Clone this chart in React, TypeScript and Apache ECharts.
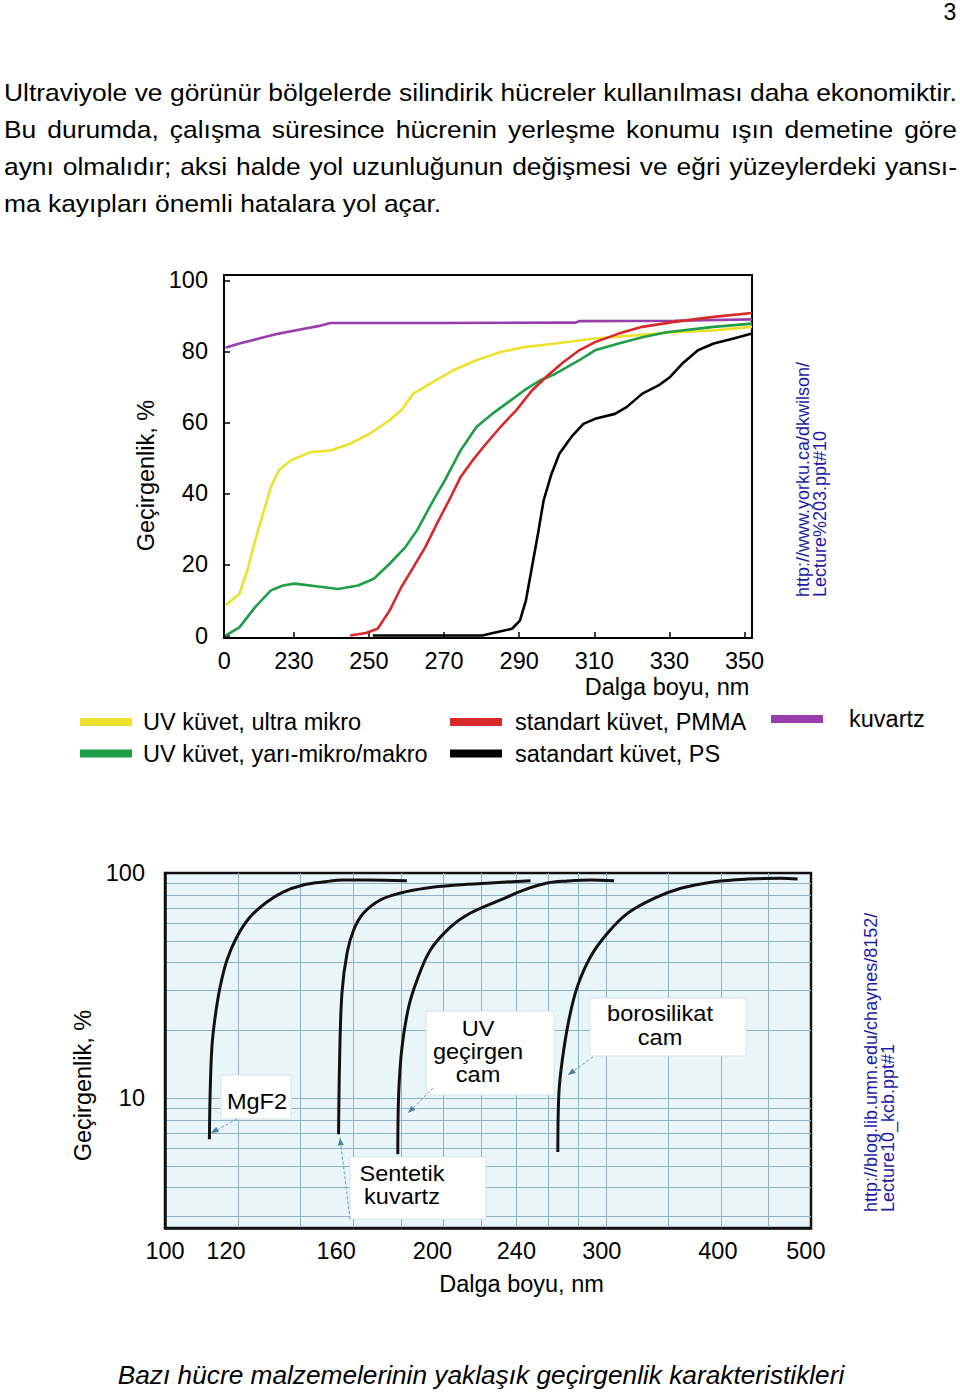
import React, { useEffect, useRef } from 'react';
import * as echarts from 'echarts';

const FONT = '"Liberation Sans", Arial, Helvetica, sans-serif';

// ---------- text ----------
const paragraphLines = [
  'Ultraviyole ve görünür bölgelerde silindirik hücreler kullanılması daha ekonomiktir.',
  'Bu durumda, çalışma süresince hücrenin yerleşme konumu ışın demetine göre',
  'aynı olmalıdır; aksi halde yol uzunluğunun değişmesi ve eğri yüzeylerdeki yansı-',
  'ma kayıpları önemli hatalara yol açar.',
];
const caption = 'Bazı hücre malzemelerinin yaklaşık geçirgenlik karakteristikleri';
const pageNumber = '3';
const topSource = ['http://www.yorku.ca/dkwilson/', 'Lecture%203.ppt#10'];
const bottomSource = ['http://blog.lib.umn.edu/chaynes/8152/', 'Lecture10_kcb.ppt#1'];
const axisNameY = 'Geçirgenlik, %';
const axisNameX = 'Dalga boyu, nm';

// ---------- top chart ----------
const topXLabelValues = [211.5, 230, 250, 270, 290, 310, 330, 350];
const topXTickValues = [230, 250, 270, 290, 310, 330, 350];
const topYTickValues = [0, 20, 40, 60, 80, 100];

const seriesNames = [
  'UV küvet, ultra mikro',
  'UV küvet, yarı-mikro/makro',
  'standart küvet, PMMA',
  'satandart küvet, PS',
  'kuvartz',
];
const seriesColors = ['#ece22e', '#1f9e47', '#d62a2a', '#000000', '#9a3dac'];

const ultraMikro = [
  [211.8, 8.5], [215.5, 11.7], [217.6, 18.3], [219.7, 26.8], [221.8, 34.3], [223.9, 41.8],
  [226.0, 46.5], [229.2, 49.3], [234.4, 51.6], [239.7, 52.1], [245.0, 54.0], [250.2, 56.8],
  [255.5, 60.6], [258.6, 63.4], [261.8, 68.1], [267.1, 71.4], [272.3, 74.6], [278.6, 77.5],
  [285.0, 79.8], [291.3, 81.2], [299.7, 82.2], [310.2, 83.6], [320.7, 84.5], [331.3, 85.4],
  [341.8, 85.9], [352, 86.9],
];
const yariMikro = [
  [211.8, 0], [215.5, 2.3], [219.7, 8.0], [223.9, 12.7], [227.1, 14.1], [230.2, 14.6],
  [236.5, 13.8], [241.8, 13.1], [247.1, 14.1], [251.3, 16.0], [255.5, 20.2], [259.7, 24.9],
  [262.8, 29.6], [267.1, 38.0], [270.2, 43.7], [274.4, 52.1], [278.6, 58.7], [282.8, 62.4],
  [287.1, 65.7], [291.3, 69.0], [295.5, 71.8], [299.7, 73.7], [306.0, 77.5], [310.2, 80.3],
  [316.5, 82.2], [322.8, 84.0], [329.2, 85.4], [341.8, 86.9], [352, 87.8],
];
const pmma = [
  [245.0, 0], [249.2, 0.7], [252.3, 1.9], [255.5, 7.0], [258.6, 13.6], [261.8, 19.2],
  [265.0, 24.9], [268.1, 31.5], [271.3, 38.0], [274.4, 44.6], [277.6, 49.3], [280.8, 53.5],
  [285.0, 58.7], [289.2, 63.4], [293.4, 69.0], [297.6, 73.2], [301.8, 77.0], [306.0, 80.3],
  [310.2, 82.6], [316.5, 85.0], [322.8, 86.9], [331.3, 88.3], [341.8, 89.7], [352, 90.8],
];
const ps = [
  [251.0, 0], [280.2, 0], [283.9, 0.9], [288.1, 1.9], [290.2, 4.2], [291.8, 9.9],
  [293.4, 19.2], [295.0, 28.6], [296.5, 38.0], [298.6, 45.5], [300.7, 51.2], [303.9, 55.9],
  [307.1, 59.6], [310.2, 61.0], [315.5, 62.4], [318.6, 64.3], [322.8, 68.1], [327.1, 70.4],
  [330.2, 72.8], [333.4, 76.5], [337.6, 80.3], [341.8, 82.2], [347.1, 83.6], [352, 85.0],
];
const kuvartz = [
  [211.8, 81.0], [215.5, 82.2], [220.7, 83.6], [226.0, 85.0], [231.3, 86.1], [236.5, 87.1],
  [239.7, 88.0], [270, 88.0], [305, 88.1], [306, 88.5], [331.3, 88.6], [352, 89.0],
];

// ---------- bottom chart ----------
// label texts and the wavelengths under which the original figure prints them
const botXLabelTexts = ['100', '120', '160', '200', '240', '300', '400', '500'];
const botXLabelAt = [100, 116.4, 153.2, 194.7, 240, 296.9, 396.5, 493.7];
const botXGridValues = [120, 140, 160, 180, 200, 220, 240, 260, 280, 300, 350, 400, 450];
const botYLabelValues = [10, 100];
const botYGridValues = [3, 4, 5, 6, 7, 8, 9, 10, 20, 30, 40, 50, 60, 70, 80, 90];

const mgf2 = [
  [111.7, 6.57], [111.9, 10.5], [112.4, 16.9], [113.3, 22.9], [114.7, 31.1], [116.7, 41.1],
  [119.6, 52.0], [123.6, 63.7], [128.9, 74.3], [134.2, 82.3], [141.1, 88.4], [148.3, 91.2],
  [155.9, 93.1], [165.5, 93.1], [182.7, 92.4],
];
const sentetikKuvartz = [
  [154.1, 6.92], [154.5, 14.8], [155.4, 29.3], [157.4, 44.1], [160.0, 55.8], [164.0, 66.4],
  [171.0, 75.9], [179.8, 81.5], [192.1, 85.8], [207.0, 88.4], [225.0, 90.3], [248.6, 92.4],
];
const uvGecirgenCam = [
  [178.6, 5.64], [179.0, 10.5], [180.5, 16.9], [183.5, 25.4], [187.4, 33.5], [193.7, 45.5],
  [203.6, 57.5], [214.1, 66.4], [230.7, 75.9], [244.3, 84.0], [259.3, 90.3], [272.5, 92.1],
  [288.7, 93.1], [306.1, 92.4],
];
const borosilikatCam = [
  [266.1, 5.77], [266.8, 10.5], [269.1, 14.8], [273.5, 22.2], [279.3, 31.2], [288.7, 42.5],
  [301.1, 54.0], [316.5, 66.2], [338.2, 77.2], [361.5, 85.5], [392.9, 91.5], [426.9, 94.0],
  [464.0, 94.7], [483.6, 94.0],
];
const bottomNames = ['MgF2', 'Sentetik kuvartz', 'UV geçirgen cam', 'borosilikat cam'];

function measure(text: string, font: string): number {
  const c = document.createElement('canvas').getContext('2d');
  if (!c) return text.length * 11;
  c.font = font;
  return c.measureText(text).width;
}

function txt(text: string, x: number, y: number, extra: any = {}, style: any = {}) {
  return {
    type: 'text',
    x,
    y,
    z: 10,
    ...extra,
    style: {
      text,
      fill: '#000',
      fontSize: 22,
      fontFamily: FONT,
      align: 'left',
      verticalAlign: 'middle',
      textAlign: 'left',
      textVerticalAlign: 'middle',
      ...style,
    },
  };
}

function arrow(x1: number, y1: number, x2: number, y2: number) {
  const a = Math.atan2(y2 - y1, x2 - x1);
  const s = 8;
  const p1 = [x2 - s * Math.cos(a - 0.38), y2 - s * Math.sin(a - 0.38)];
  const p2 = [x2 - s * Math.cos(a + 0.38), y2 - s * Math.sin(a + 0.38)];
  return [
    {
      type: 'line',
      z: 6,
      shape: { x1, y1, x2, y2 },
      style: { stroke: '#6e9bb6', lineWidth: 1, lineDash: [3, 2] },
    },
    {
      type: 'polygon',
      z: 6,
      shape: { points: [[x2, y2], p1, p2] },
      style: { fill: '#4f7f9c' },
    },
  ];
}

function box(x: number, y: number, w: number, h: number) {
  return {
    type: 'rect',
    z: 1,
    shape: { x, y, width: w, height: h },
    style: { fill: '#ffffff', stroke: '#d5e3ea', lineWidth: 1 },
  };
}

export default function App() {
  const ref = useRef<HTMLDivElement>(null);

  useEffect(() => {
    if (!ref.current) return;
    const chart = echarts.init(ref.current, undefined, { renderer: 'svg' });

    const elements: any[] = [];

    // page number
    elements.push(txt(pageNumber, 950, 12, {}, { align: 'center', textAlign: 'center', fontSize: 23 }));

    // justified paragraph (Arial-like face, slightly wide as in the scan)
    const PS = 24;
    const SX = 1.1;
    const pFont = `${PS}px ${FONT}`;
    const left = 4;
    const right = 957;
    paragraphLines.forEach((line, i) => {
      const y = 92 + i * 37;
      if (i === paragraphLines.length - 1) {
        elements.push(txt(line, left, y, { scaleX: SX }, { fontSize: PS }));
        return;
      }
      const words = line.split(' ');
      const widths = words.map((w) => measure(w, pFont) * SX);
      const total = widths.reduce((a, b) => a + b, 0);
      const gap = (right - left - total) / (words.length - 1);
      let x = left;
      words.forEach((w, j) => {
        elements.push(txt(w, x, y, { scaleX: SX }, { fontSize: PS }));
        x += widths[j] + gap;
      });
    });

    // caption (italic)
    const capW = measure(caption, `italic 26px ${FONT}`);
    const capSize = Math.min(28, (26 * 727) / capW);
    elements.push(
      txt(caption, 481, 1375, {}, { fontSize: capSize, fontStyle: 'italic', align: 'center', textAlign: 'center' })
    );

    // sources (rotated)
    const blue = '#1c1ca4';
    elements.push(txt(topSource[0], 803, 597, { rotation: Math.PI / 2 }, { fontSize: 18, fill: blue }));
    elements.push(txt(topSource[1], 820, 597, { rotation: Math.PI / 2 }, { fontSize: 18, fill: blue }));
    elements.push(txt(bottomSource[0], 871, 1212, { rotation: Math.PI / 2 }, { fontSize: 18, fill: blue }));
    elements.push(txt(bottomSource[1], 888, 1212, { rotation: Math.PI / 2 }, { fontSize: 18, fill: blue }));

    // annotation boxes in the lower chart
    elements.push(box(221, 1075, 70, 44));
    elements.push(box(350, 1157, 136, 62));
    elements.push(box(426, 1011, 128, 84));
    elements.push(box(590, 998, 156, 58));
    const cc = { align: 'center', textAlign: 'center' };
    const sc = { scaleX: 1.07 };
    elements.push(txt('MgF2', 257, 1101, sc, cc));
    elements.push(txt('Sentetik', 402, 1173, sc, cc));
    elements.push(txt('kuvartz', 402, 1196, sc, cc));
    elements.push(txt('UV', 478, 1028, sc, cc));
    elements.push(txt('geçirgen', 478, 1051, sc, cc));
    elements.push(txt('cam', 478, 1074, sc, cc));
    elements.push(txt('borosilikat', 660, 1013, sc, cc));
    elements.push(txt('cam', 660, 1037, sc, cc));
    elements.push(...arrow(237, 1119, 211, 1133));
    elements.push(...arrow(350, 1219, 340, 1138));
    elements.push(...arrow(433, 1088, 408, 1113));
    elements.push(...arrow(593, 1057, 568, 1075));

    const axisText = { fontSize: 23.5, color: '#000', fontFamily: FONT };

    const topSeriesData = [ultraMikro, yariMikro, pmma, ps, kuvartz];
    const drawOrder = [4, 0, 1, 2, 3];
    const topSeries = drawOrder.map((i) => ({
      name: seriesNames[i],
      type: 'line',
      xAxisIndex: 0,
      yAxisIndex: 0,
      data: topSeriesData[i],
      showSymbol: false,
      symbol: 'none',
      itemStyle: { color: seriesColors[i] },
      lineStyle: { color: seriesColors[i], width: 2.6 },
      z: 3,
    }));

    const bottomData = [mgf2, sentetikKuvartz, uvGecirgenCam, borosilikatCam];
    const bottomSeries = bottomData.map((d, i) => ({
      name: bottomNames[i],
      type: 'line',
      xAxisIndex: 1,
      yAxisIndex: 1,
      data: d,
      showSymbol: false,
      symbol: 'none',
      smooth: 0.35,
      itemStyle: { color: '#111' },
      lineStyle: { color: '#111', width: 3 },
      z: 3,
    }));

    const legendBase = {
      orient: 'vertical',
      padding: 0,
      itemWidth: 52,
      itemHeight: 8,
      itemGap: 7.5,
      icon: 'rect',
      selectedMode: false,
    };

    const option: any = {
      animation: false,
      backgroundColor: '#ffffff',
      textStyle: { fontFamily: FONT },
      grid: [
        {
          left: 224, top: 275, width: 528, height: 363,
          show: true, borderColor: '#000', borderWidth: 2, backgroundColor: '#ffffff',
        },
        {
          left: 165, top: 873, width: 646, height: 355,
          show: true, borderColor: '#111', borderWidth: 2.5, backgroundColor: '#e9f6f9',
        },
      ],
      xAxis: [
        {
          type: 'value', gridIndex: 0, min: 211.4, max: 352,
          axisLine: { show: true, onZero: false, lineStyle: { color: '#000', width: 2 } },
          axisTick: { show: true, inside: true, length: 6, customValues: topXTickValues, lineStyle: { color: '#000', width: 1.5 } },
          axisLabel: {
            ...axisText, margin: 11, customValues: topXLabelValues,
            formatter: (v: number) => (v < 220 ? '0' : String(Math.round(v))),
          },
          splitLine: { show: false },
          name: axisNameX, nameLocation: 'middle', nameGap: 37,
          nameTextStyle: { ...axisText, padding: [0, 0, 0, 358] },
        },
        {
          type: 'log', gridIndex: 1, logBase: 10, min: 100, max: 500,
          axisLine: { show: true, onZero: false, lineStyle: { color: '#111', width: 2.5 } },
          axisTick: { show: false, customValues: botXGridValues },
          axisLabel: {
            ...axisText, margin: 11, customValues: botXLabelAt,
            formatter: (v: number) => {
              let best = 0;
              botXLabelAt.forEach((p, k) => {
                if (Math.abs(p - v) < Math.abs(botXLabelAt[best] - v)) best = k;
              });
              return botXLabelTexts[best];
            },
          },
          splitLine: { show: true, customValues: botXGridValues, lineStyle: { color: '#8cb1c8', width: 1 } },
          name: axisNameX, nameLocation: 'middle', nameGap: 44,
          nameTextStyle: { ...axisText, padding: [0, 0, 0, 67] },
        },
      ],
      yAxis: [
        {
          type: 'value', gridIndex: 0, min: -0.7, max: 101.5,
          axisLine: { show: true, onZero: false, lineStyle: { color: '#000', width: 2 } },
          axisTick: { show: true, inside: true, length: 6, customValues: topYTickValues, lineStyle: { color: '#000', width: 1.5 } },
          axisLabel: { ...axisText, margin: 16, customValues: topYTickValues },
          splitLine: { show: false },
          name: axisNameY, nameLocation: 'middle', nameGap: 63,
          nameTextStyle: { ...axisText, padding: [0, 38, 0, 0] },
        },
        {
          type: 'log', gridIndex: 1, logBase: 10, min: 2.65, max: 100,
          axisLine: { show: true, onZero: false, lineStyle: { color: '#111', width: 2.5 } },
          axisTick: { show: false, customValues: botYGridValues },
          axisLabel: { ...axisText, margin: 20, customValues: botYLabelValues },
          splitLine: { show: true, customValues: botYGridValues, lineStyle: { color: '#8cb1c8', width: 1 } },
          name: axisNameY, nameLocation: 'middle', nameGap: 64,
          nameTextStyle: { ...axisText, padding: [0, 70, 0, 0] },
        },
      ],
      legend: [
        {
          ...legendBase, left: 80, top: 710,
          data: [seriesNames[0], seriesNames[1]],
          textStyle: { ...axisText, padding: [0, 0, 0, 6] },
        },
        {
          ...legendBase, left: 450, top: 710,
          data: [seriesNames[2], seriesNames[3]],
          textStyle: { ...axisText, padding: [0, 0, 0, 8] },
        },
        {
          ...legendBase, left: 771, top: 707,
          data: [seriesNames[4]],
          textStyle: { ...axisText, padding: [0, 0, 0, 21] },
        },
      ],
      series: [...topSeries, ...bottomSeries],
      graphic: elements,
    };

    chart.setOption(option);
    return () => chart.dispose();
  }, []);

  return (
    <div
      ref={ref}
      style={{ position: 'absolute', left: 0, top: 0, width: 960, height: 1395, background: '#fff' }}
    />
  );
}
